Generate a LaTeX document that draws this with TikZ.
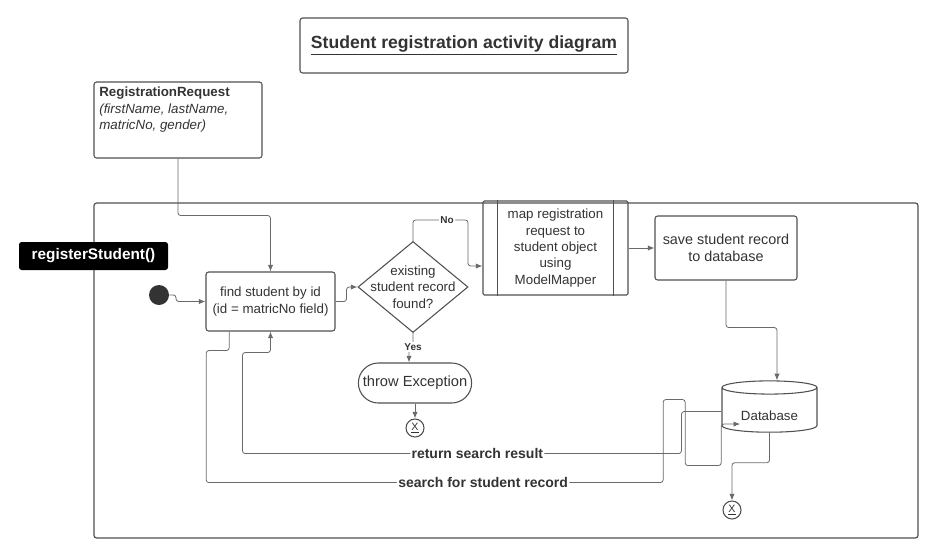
\documentclass[tikz,border=0pt]{standalone}
\usepackage{fontspec}
\setmainfont{Liberation Sans}
\usetikzlibrary{shapes.geometric, arrows.meta}
\definecolor{linegray}{HTML}{6A6A6A}
\definecolor{boxgray}{HTML}{505050}
\definecolor{textgray}{HTML}{333333}
\tikzstyle{titlebox} = [rectangle, rounded corners=2pt, draw=boxgray, line width=0.8pt, minimum width=246pt, minimum height=41.25pt, font=\fontsize{13.2}{15}\selectfont\bfseries]
\tikzstyle{reqbox} = [rectangle, rounded corners=2pt, draw=boxgray, line width=0.8pt, inner sep=4pt, minimum width=126pt, minimum height=57pt]
\tikzstyle{methodtag} = [rectangle, rounded corners=2pt, fill=black, text=white, minimum width=111.75pt, minimum height=21pt, font=\fontsize{11.5}{13}\selectfont\bfseries]
\tikzstyle{startnode} = [circle, fill=textgray, minimum size=15pt, inner sep=0pt]
\tikzstyle{endnode} = [circle, draw=boxgray, line width=0.8pt, minimum size=13.5pt, inner sep=0pt, font=\fontsize{8}{9}\selectfont]
\tikzstyle{process} = [rectangle, rounded corners=2pt, draw=boxgray, line width=0.8pt, align=center]
\tikzstyle{decision} = [diamond, draw=boxgray, line width=0.8pt, minimum width=82.5pt, minimum height=68.25pt, inner sep=0pt]
\tikzstyle{terminal} = [rectangle, rounded corners=15pt, draw=boxgray, line width=0.8pt, minimum width=82.5pt, minimum height=30pt, font=\fontsize{11}{13}\selectfont]
\tikzstyle{database} = [cylinder, shape border rotate=90, aspect=0.2, draw=boxgray, line width=0.8pt, minimum width=71.25pt, minimum height=38.5pt]
\tikzstyle{frame} = [draw=boxgray, line width=0.9pt, rounded corners=2pt]
\tikzstyle{arrow} = [draw=linegray, line width=0.6pt, rounded corners=2pt, -{Latex[length=5pt,width=4pt]}]
\tikzstyle{lbl} = [fill=white, inner sep=1pt, font=\fontsize{7.5}{9}\selectfont\bfseries]
\tikzstyle{flowlbl} = [fill=white, inner sep=1pt, font=\fontsize{10.5}{12}\selectfont\bfseries]

\begin{document}
\begin{tikzpicture}[x=0.75pt, y=-0.75pt, font=\fontsize{10}{12.3}\selectfont, text=textgray]
        \useasboundingbox (0,0) rectangle (938,557);
        \node (title) [titlebox] at (464,45.5) {\underline{Student registration activity diagram}};
        \node (req) [reqbox] at (178,120) {\parbox[c][49pt][t]{118pt}{\textbf{RegistrationRequest}\\\textit{(firstName, lastName,}\\\textit{matricNo, gender)}}};
        % activity frame
        \draw [frame] (94,203) rectangle (918,538);
        \node (method) [methodtag] at (93.5,256) {registerStudent()};

        \node (init) [startnode] at (159,295) {};
        \node (find) [process, minimum width=96.75pt, minimum height=44.25pt] at (270.5,301.5) {find student by id\\(id = matricNo field)};
        \node (dec) [decision, label={[align=center]center:existing\\student record\\found?}] at (413,287) {};
        \node (exc) [terminal] at (415,383) {throw Exception};
        \node (endA) [endnode] at (415,428) {\underline{X}};
        \node (map) [process, rounded corners=1pt, minimum width=108.75pt, minimum height=70.5pt] at (555.5,248) {map registration\\request to\\student object\\using\\ModelMapper};
        \draw [boxgray, line width=0.8pt] ([xshift=11.25pt]map.north west) -- ([xshift=11.25pt]map.south west);
        \draw [boxgray, line width=0.8pt] ([xshift=-11.25pt]map.north east) -- ([xshift=-11.25pt]map.south east);
        \node (save) [process, minimum width=106.5pt, minimum height=48pt, font=\fontsize{10.8}{12.8}\selectfont] at (726,248) {save student record\\to database};
        \node (db) [database] at (769.5,411.5) {\raisebox{-3pt}[\height][\depth]{Database}};
        \node (endB) [endnode] at (732,510) {\underline{X}};

        \draw [arrow] (req.south) -- ++(0,57) -| (find.north);
        \draw [arrow] (init) -- ++(17,0) |- (find.west);
        \draw [arrow] (find.east) -- ++(11,0) |- (dec.west);
        \draw [arrow] (dec.north) -- ++(0,-21) -- node[lbl, pos=0.62] {No} ++(55,0) |- ([yshift=-13.5pt]map.west);
        \draw [arrow] (dec.south) -- ++(0,14) node[lbl] {Yes} -| ([xshift=-4.5pt]exc.north);
        \draw [arrow] (exc.south) -- (endA.north);
        \draw [arrow] (map.east) -- (save.west);
        \draw [arrow] (save.south) -- ++(0,47) -| ([xshift=5.6pt]db.north);
        \draw [arrow] (db.south) -- ++(0,30) -| (endB.north);
        \draw [arrow] ([xshift=-31pt]find.south) -- ++(0,19) -- ++(-23,0) -- ++(0,132) -- node[flowlbl, pos=0.606] {search for student record} ++(457,0) -- ++(0,-83) -- ++(22,0) -- ++(0,66) -- ++(36,0) |- ([xshift=-22pt,yshift=-9.4pt]db.center);
        \draw [arrow] (db.west) -- ++(-40,0) -- ++(0,42) -- node[flowlbl, pos=0.465] {return search result} ++(-439,0) -- ++(0,-101) -| (find.south);
    \end{tikzpicture}
\end{document}
